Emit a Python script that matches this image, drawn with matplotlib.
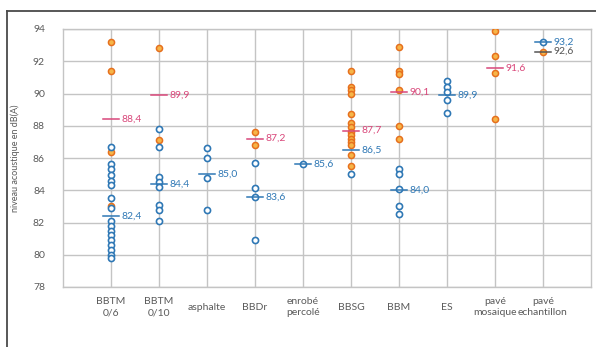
import matplotlib
matplotlib.use('Agg')
import matplotlib.pyplot as plt
from matplotlib.lines import Line2D

# ---- data ----
categories = ['BBTM\n0/6', 'BBTM\n0/10', 'asphalte', 'BBDr', 'enrobé\npercolé',
              'BBSG', 'BBM', 'ES', 'pavé\nmosaique', 'pavé\nechantillon']

orange_pts = [
    [93.2, 91.4, 86.4, 83.0],
    [92.8, 87.1],
    [],
    [87.6, 86.8],
    [],
    [91.4, 90.4, 90.2, 90.0, 88.7, 88.2, 87.9, 87.6, 87.4, 87.2, 87.0, 86.8, 86.2, 85.5],
    [92.9, 91.4, 91.2, 90.2, 88.0, 87.2],
    [],
    [93.9, 92.3, 91.3, 88.4],
    [92.6],
]
blue_pts = [
    [86.7, 85.6, 85.3, 84.95, 84.6, 84.3, 83.5, 82.9, 82.1, 81.8, 81.5, 81.2,
     80.9, 80.6, 80.3, 80.0, 79.8],
    [87.8, 86.7, 84.8, 84.5, 84.2, 83.1, 82.8, 82.1],
    [86.65, 86.0, 84.75, 82.8],
    [85.7, 84.15, 83.6, 80.9],
    [85.6],
    [85.0],
    [85.3, 85.0, 84.1, 83.0, 82.5],
    [90.8, 90.4, 90.1, 89.6, 88.8],
    [],
    [93.2],
]
orange_mean = [88.4, 89.9, None, 87.2, None, 87.7, 90.1, None, 91.6, 92.6]
blue_mean = [82.4, 84.4, 85.0, 83.6, 85.6, 86.5, 84.0, 89.9, None, 93.2]
yticks = [78, 80, 82, 84, 86, 88, 90, 92, 94]

# ---- style ----
plt.rcParams['font.family'] = ['Lato', 'DejaVu Sans']

c_orange_face = '#f6b548'
c_orange_edge = '#e6701e'
c_blue = '#2f78b5'
c_pink = '#d9477a'
c_dark = '#555555'
c_grid = '#c4c4c4'
c_text = '#5a5a5a'

fig = plt.figure(figsize=(5.96, 3.47), dpi=100)
ax = fig.add_axes([63 / 596, 1 - 287 / 347, 528 / 596, 258 / 347])

for i in range(len(categories)):
    x = i + 1
    if orange_pts[i]:
        ax.plot([x] * len(orange_pts[i]), orange_pts[i], 'o', ms=4.4,
                mfc=c_orange_face, mec=c_orange_edge, mew=1.1, zorder=3)
    if blue_pts[i]:
        ax.plot([x] * len(blue_pts[i]), blue_pts[i], 'o', ms=4.4,
                mfc='white', mec=c_blue, mew=1.2, zorder=4)

    for m, col in [(orange_mean[i], c_pink), (blue_mean[i], c_blue)]:
        if m is None:
            continue
        if i == 9 and col == c_pink:
            col = c_dark
        ax.plot([x - 0.16, x + 0.16], [m, m], color=col, lw=1.1, zorder=5)
        ax.text(x + 0.22, m, f'{m:.1f}'.replace('.', ','), color=col,
                fontsize=7.5, va='center', ha='left', zorder=6)

ax.set_xlim(0, 11)
ax.set_ylim(78, 94)
ax.set_yticks(yticks)
ax.set_xticks(range(1, len(categories) + 1))
ax.set_xticklabels(categories, fontsize=7.5, color=c_text, linespacing=1.3)
for lab in ax.get_xticklabels():
    lab.set_va('center')
ax.tick_params(axis='x', length=0, pad=14.5)
ax.tick_params(axis='y', length=0, pad=13, labelsize=7.5, labelcolor=c_text)
ax.grid(True, color=c_grid, lw=1.0, zorder=0)
ax.set_axisbelow(True)
for s in ax.spines.values():
    s.set_color(c_grid)
    s.set_linewidth(1.0)
ax.set_ylabel('niveau acoustique en dB(A)', fontsize=6.5, color=c_text)
ax.yaxis.set_label_coords(-0.081, 0.5)

# outer frame (top and left edges)
fig.add_artist(Line2D([7 / 596, 1], [1 - 11 / 347, 1 - 11 / 347],
                      transform=fig.transFigure, color='#4a4a4a', lw=1.3))
fig.add_artist(Line2D([7 / 596, 7 / 596], [0, 1 - 11 / 347],
                      transform=fig.transFigure, color='#4a4a4a', lw=1.3))

fig.savefig('out.png', dpi=100)
